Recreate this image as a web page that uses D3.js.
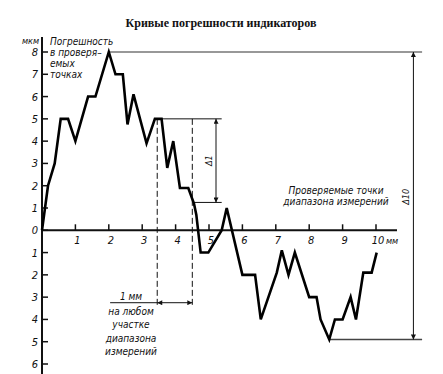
<!DOCTYPE html>
<html>
<head>
<meta charset="utf-8">
<script src="https://d3js.org/d3.v7.min.js"></script>
<style>
  body { margin: 0; background: #fff; }
  svg text { font-family: "Liberation Sans Narrow", "DejaVu Sans Condensed", sans-serif; font-style: italic; fill: #111; }
</style>
</head>
<body>
<div id="chart"></div>
<script>
// curve of indicator error (x in mm, y in мкм)
var curveX = [0, 0.18, 0.38, 0.56, 0.78, 1.0, 1.38, 1.6, 2.0, 2.2, 2.42, 2.56, 2.74, 3.13, 3.38, 3.58, 3.75, 3.93, 4.13, 4.38, 4.55, 4.62, 4.75, 4.98, 5.38, 5.53, 6.0, 6.38, 6.55, 7.03, 7.18, 7.38, 7.57, 8.0, 8.22, 8.34, 8.6, 8.77, 9.0, 9.24, 9.4, 9.62, 9.87, 10.02];
var curveY = [0, 2, 3, 5, 5, 4, 6, 6, 8, 7, 7, 4.75, 6.1, 3.9, 5, 5, 2.8, 4, 1.9, 1.9, 1.2, 0.7, -1, -1, 0, 1, -2, -2, -4, -1.9, -0.9, -2, -1, -3, -3, -4, -4.9, -4, -4, -3, -4, -1.9, -1.9, -1];

var xTicks = [1, 2, 3, 4, 5, 6, 7, 8, 9, 10];
var yTicks = [8, 7, 6, 5, 4, 3, 2, 1, 0, -1, -2, -3, -4, -5, -6];

// reference levels
var maxErr = 8, minErr = -4.9;       // Δ10
var d1Top = 5, d1Bottom = 1.25;      // Δ1
var winStart = 3.45, winEnd = 4.5;   // 1 mm window

var W = 443, H = 374;
var svg = d3.select("#chart").append("svg")
  .attr("width", W).attr("height", H);

var x = d3.scaleLinear().domain([0, 10]).range([42, 376]);
var y = d3.scaleLinear().domain([-6, 8]).range([364, 52]);

// arrow markers
var defs = svg.append("defs");
defs.append("marker").attr("id", "arr")
  .attr("viewBox", "0 0 10 10").attr("refX", 10).attr("refY", 5)
  .attr("markerWidth", 7).attr("markerHeight", 5)
  .attr("orient", "auto-start-reverse").attr("markerUnits", "userSpaceOnUse")
  .append("path").attr("d", "M0,0 L10,5 L0,10 z").attr("fill", "#111");

// title
svg.append("text")
  .attr("x", 221).attr("y", 27)
  .attr("text-anchor", "middle")
  .style("font-family", "'Liberation Serif', 'DejaVu Serif', serif")
  .style("font-style", "normal")
  .style("font-weight", "bold")
  .style("font-size", "12px")
  .text("Кривые погрешности индикаторов");

// axes
svg.append("line")
  .attr("x1", x(0)).attr("x2", x(0))
  .attr("y1", 37).attr("y2", H)
  .attr("stroke", "#111").attr("stroke-width", 2);
svg.append("line")
  .attr("x1", x(0)).attr("x2", 397)
  .attr("y1", y(0)).attr("y2", y(0))
  .attr("stroke", "#111").attr("stroke-width", 2);

svg.selectAll(".xt").data(xTicks).enter().append("line")
  .attr("x1", function (d) { return x(d) }).attr("x2", function (d) { return x(d) })
  .attr("y1", y(0)).attr("y2", y(0) - 6)
  .attr("stroke", "#111").attr("stroke-width", 1.5);
svg.selectAll(".xl").data(xTicks).enter().append("text")
  .attr("x", function (d) { return x(d) + 2 })
  .attr("y", y(0) + 14)
  .attr("text-anchor", "middle")
  .style("font-size", "11px")
  .text(function (d) { return d });
svg.append("text").attr("x", 386).attr("y", y(0) + 14)
  .style("font-size", "9px").text("мм");

svg.selectAll(".yt").data(yTicks).enter().append("line")
  .attr("x1", x(0)).attr("x2", x(0) + 6)
  .attr("y1", function (d) { return y(d) }).attr("y2", function (d) { return y(d) })
  .attr("stroke", "#111").attr("stroke-width", 1.5);
svg.selectAll(".yl").data(yTicks).enter().append("text")
  .attr("x", 38)
  .attr("y", function (d) { return y(d) + 4 })
  .attr("text-anchor", "end")
  .style("font-size", "11px")
  .text(function (d) { return Math.abs(d) });
svg.append("text").attr("x", 39).attr("y", 44)
  .attr("text-anchor", "end")
  .style("font-size", "9px").text("мкм");

// y label
var ylab = ["Погрешность", "в проверя–", "емых", "точках"];
svg.selectAll(".ylab").data(ylab).enter().append("text")
  .attr("x", 50)
  .attr("y", function (d, i) { return 45 + i * 11 })
  .style("font-size", "10px")
  .text(function (d) { return d });

// x label
var xlab = ["Проверяемые точки", "диапазона измерений"];
svg.selectAll(".xlab").data(xlab).enter().append("text")
  .attr("x", 336)
  .attr("y", function (d, i) { return 194 + i * 11 })
  .attr("text-anchor", "middle")
  .style("font-size", "10px")
  .text(function (d) { return d });

// Δ10 reference
svg.append("line")
  .attr("x1", x(2)).attr("x2", x(11.38))
  .attr("y1", y(maxErr)).attr("y2", y(maxErr))
  .attr("stroke", "#333").attr("stroke-width", 1.2);
svg.append("line")
  .attr("x1", x(8.6)).attr("x2", x(11.38))
  .attr("y1", y(minErr)).attr("y2", y(minErr))
  .attr("stroke", "#444").attr("stroke-width", 1.5);
svg.append("line")
  .attr("x1", x(11.12)).attr("x2", x(11.12))
  .attr("y1", y(maxErr)).attr("y2", y(minErr))
  .attr("stroke", "#111").attr("stroke-width", 1)
  .attr("marker-start", "url(#arr)").attr("marker-end", "url(#arr)");
svg.append("text")
  .attr("transform", "translate(" + (x(11.12) - 4) + "," + y(1.5) + ") rotate(-90)")
  .attr("text-anchor", "middle")
  .style("font-size", "9px").text("Δ10");

// Δ1 reference
svg.append("line")
  .attr("x1", x(3.38)).attr("x2", x(5.38))
  .attr("y1", y(d1Top)).attr("y2", y(d1Top))
  .attr("stroke", "#111").attr("stroke-width", 1);
svg.append("line")
  .attr("x1", x(4.52)).attr("x2", x(5.38))
  .attr("y1", y(d1Bottom)).attr("y2", y(d1Bottom))
  .attr("stroke", "#111").attr("stroke-width", 1);
svg.append("line")
  .attr("x1", x(5.21)).attr("x2", x(5.21))
  .attr("y1", y(d1Top)).attr("y2", y(d1Bottom))
  .attr("stroke", "#111").attr("stroke-width", 1)
  .attr("marker-start", "url(#arr)").attr("marker-end", "url(#arr)");
svg.append("text")
  .attr("transform", "translate(" + (x(5.21) - 4) + "," + y((d1Top + d1Bottom) / 2) + ") rotate(-90)")
  .attr("text-anchor", "middle")
  .style("font-size", "9px").text("Δ1");

// 1 mm window
[winStart, winEnd].forEach(function (v) {
  svg.append("line")
    .attr("x1", x(v)).attr("x2", x(v))
    .attr("y1", y(d1Top)).attr("y2", y(-3.4))
    .attr("stroke", "#111").attr("stroke-width", 1)
    .attr("stroke-dasharray", "6,3");
});
svg.append("line")
  .attr("x1", x(winStart)).attr("x2", x(winEnd))
  .attr("y1", y(-3.25)).attr("y2", y(-3.25))
  .attr("stroke", "#111").attr("stroke-width", 1)
  .attr("marker-start", "url(#arr)").attr("marker-end", "url(#arr)");
svg.append("line")
  .attr("x1", x(2.04)).attr("x2", x(winStart))
  .attr("y1", y(-3.25)).attr("y2", y(-3.25))
  .attr("stroke", "#111").attr("stroke-width", 1);
svg.append("text")
  .attr("x", 131).attr("y", y(-3.25) - 3)
  .attr("text-anchor", "middle")
  .style("font-size", "10px").text("1 мм");
var winLab = ["на любом", "участке", "диапазона", "измерений"];
svg.selectAll(".wl").data(winLab).enter().append("text")
  .attr("x", 131)
  .attr("y", function (d, i) { return y(-3.25) + 12 + i * 13.5 })
  .attr("text-anchor", "middle")
  .style("font-size", "10px")
  .text(function (d) { return d });

// error curve
var pts = curveX.map(function (d, i) { return [d, curveY[i]] });
var line = d3.line()
  .x(function (d) { return x(d[0]) })
  .y(function (d) { return y(d[1]) });
svg.append("path")
  .attr("d", line(pts))
  .attr("fill", "none")
  .attr("stroke", "#000")
  .attr("stroke-width", 2.6)
  .attr("stroke-linejoin", "miter");
</script>
</body>
</html>
